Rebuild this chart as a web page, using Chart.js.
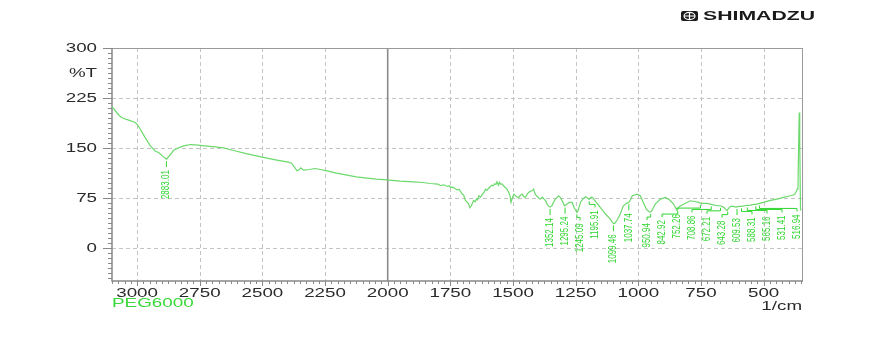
<!DOCTYPE html>
<html><head><meta charset="utf-8">
<script src="https://cdn.jsdelivr.net/npm/chart.js@4/dist/chart.umd.min.js"></script>
<style>html,body{margin:0;padding:0;background:#fff;}#wrap{width:874px;height:337px;position:relative;}</style>
</head><body><div id="wrap"><canvas id="c" width="874" height="337"></canvas></div>
<script>
const wavenumbers = [3100,3079,3067,3054,3039,3007,2999,2987,2967,2947,2927,2914,2899,2890,2883,2867,2855,2841,2815,2787,2768,2748,2721,2688,2655,2615,2560,2501,2448,2396,2384,2372,2362,2353,2347,2335,2313,2289,2269,2242,2205,2162,2125,2082,2045,2003,
1950,1897,1860,1830,1800,1790,1775,1763,1755,1750,1740,1730,1723,1715,1703,1697,1690,1682,1677,1672,1666,1661,1657,1651,1646,1641,1637,1630,1622,1616,1610,1604,1598,1590,1584,1578,1574,1568,1564,1558,1554,1550,1544,1538,1531,1524,1517,1512,1508,1503,1497,1492,1487,1482,1477,1470,1464,1457,1451,1444,1438,1430,1424,1418,1411,1403,1396,1391,1383,1376,1371,1362,1352,1345,1339,1331,1318,1310,1303,1295,1287,1275,1264,1256,1245,1240,1231,1219,1211,1204,1196,1190,1183,1168,1152,1132,1112,1104,1099,1094,1084,1072,1060,1045,1038,1032,1024,1005,992,980,968,958,951,945,932,912,892,876,860,852,843,836,816,792,770,760,752,741,725,709,686,673,660,652,646,640,632,620,610,600,588,576,565,553,540,531,517,501,473,447,421,393,377,370,366,363,361,358,356,353,350];
const transmittance = [212,202,197,194,192.5,188,185,178,165,153,145,143,138,135,133,140,146,149,153,155,154.5,153.7,152.7,151.5,150,146,141,136,132,128.5,127,121,115.5,117,120,116.5,117.5,119,117.5,115.5,112,109,106.5,104.5,103,102,
100,99,98,96.5,95.5,93.5,94.5,92,93,90.5,91,88.5,87,87.5,81,79,71,68,66,60,63,68,71,69,73,72,78,76,80,83,88,86,89,92,94,93,96,95,99,94,98,95.5,96,93,90.5,88,83,78,68,74,80.5,79,77,76,75.5,79,80.5,77,75.5,80,83,85,85.5,88,80,77,74,73,76,73,71,64,61,63,68,73,78,75,70,63,65,68,68,60,53,56,68,74,76.5,75,72.5,75.5,75.5,68,60.5,51,43,38,36.5,36.5,42,50.5,63,67,68,72,78,80.5,78,68,58,54,53.5,56,66,73,75.5,72,66,60,58,62,66,70.5,69,68,67,66.7,66.5,65,63,63,61,58,55.7,59,62,62,61,62,62,63,63.5,64,65,65,66.5,68,71,73,75.5,78,80,84,88,90,140,203,160,57,58];
const xTickValues = [3000,2750,2500,2250,2000,1750,1500,1250,1000,750,500];
const yTickValues = [0,75,150,225,300];
const peakLabels = ['2883.01','1352.14','1295.24','1245.09','1195.91','1099.46','1037.74','950.94','842.92','752.26','708.86','672.21','643.28','609.53','588.31','565.16','531.41','516.94'];
const sampleName = 'PEG6000';
const xUnit = '1/cm';
const yUnit = '%T';
const brand = 'SHIMADZU';

const points = wavenumbers.map((w, i) => ({x: w, y: transmittance[i]}));

function interpT(w) {
  for (let i = 0; i < wavenumbers.length - 1; i++) {
    const a = wavenumbers[i], b = wavenumbers[i + 1];
    if (w <= a && w >= b) {
      const t = (a - w) / (a - b);
      return transmittance[i] + t * (transmittance[i + 1] - transmittance[i]);
    }
  }
  return transmittance[transmittance.length - 1];
}

const FONT = "'Liberation Sans', Arial, sans-serif";
function stext(ctx, str, x, y, align, size, color, sx, weight) {
  ctx.save();
  ctx.translate(x, y);
  ctx.scale(sx, 1);
  ctx.font = (weight || '') + ' ' + size + 'px ' + FONT;
  ctx.fillStyle = color;
  ctx.textAlign = align;
  ctx.textBaseline = 'middle';
  ctx.fillText(str, 0, 0);
  ctx.restore();
}

const decor = {
  id: 'decor',
  beforeDatasetsDraw(chart) {
    const ctx = chart.ctx, a = chart.chartArea, xs = chart.scales.x, ys = chart.scales.y;
    ctx.save();
    // dashed grid
    ctx.strokeStyle = '#c4c4c4';
    ctx.lineWidth = 1;
    ctx.setLineDash([4, 3]);
    xTickValues.forEach(v => {
      if (v === 2000) return;
      const x = Math.round(xs.getPixelForValue(v)) + 0.5;
      ctx.beginPath(); ctx.moveTo(x, a.top); ctx.lineTo(x, a.bottom); ctx.stroke();
    });
    yTickValues.forEach(v => {
      if (v === 300) return;
      const y = Math.round(ys.getPixelForValue(v)) + 0.5;
      ctx.beginPath(); ctx.moveTo(a.left, y); ctx.lineTo(a.right, y); ctx.stroke();
    });
    ctx.setLineDash([]);
    // 2000 solid line
    ctx.strokeStyle = '#8a8a8a';
    ctx.lineWidth = 1.6;
    const x2 = xs.getPixelForValue(2000);
    ctx.beginPath(); ctx.moveTo(x2, a.top); ctx.lineTo(x2, a.bottom); ctx.stroke();
    // frame
    ctx.strokeStyle = '#9a9a9a';
    ctx.lineWidth = 1;
    ctx.beginPath(); ctx.moveTo(a.left, a.top + 0.5); ctx.lineTo(a.right, a.top + 0.5); ctx.stroke();
    ctx.beginPath(); ctx.moveTo(a.right - 0.5, a.top); ctx.lineTo(a.right - 0.5, a.bottom); ctx.stroke();
    ctx.strokeStyle = '#888';
    ctx.lineWidth = 1.5;
    ctx.beginPath(); ctx.moveTo(a.left, a.top); ctx.lineTo(a.left, a.bottom); ctx.lineTo(a.right, a.bottom); ctx.stroke();
    // y ticks
    ctx.lineWidth = 1;
    ctx.strokeStyle = '#888';
    for (let v = -45; v <= 300.01; v += 7.5) {
      const y = Math.round(ys.getPixelForValue(v)) + 0.5;
      const major = Math.abs(v % 75) < 0.01;
      ctx.beginPath(); ctx.moveTo(a.left - (major ? 9 : 4), y); ctx.lineTo(a.left, y); ctx.stroke();
    }
    // x ticks
    for (let v = 350; v <= 3100; v += 25) {
      const x = Math.round(xs.getPixelForValue(v)) + 0.5;
      const major = v % 250 === 0;
      ctx.beginPath(); ctx.moveTo(x, a.bottom); ctx.lineTo(x, a.bottom + (major ? 5 : 3)); ctx.stroke();
    }
    ctx.restore();
  },
  afterDatasetsDraw(chart) {
    const ctx = chart.ctx, a = chart.chartArea, xs = chart.scales.x, ys = chart.scales.y;
    const col = '#2fd52f';
    const peaks = peakLabels.map(s => {
      const w = parseFloat(s);
      const px = xs.getPixelForValue(w), py = ys.getPixelForValue(interpT(w));
      return {s, px, py, lx: px};
    }).sort((p, q) => p.px - q.px);
    const gap = 15;
    for (let i = 1; i < peaks.length; i++) peaks[i].lx = Math.max(peaks[i].lx, peaks[i - 1].lx + gap);
    const bound = a.right - 6;
    const n = peaks.length;
    if (peaks[n - 1].lx > bound) peaks[n - 1].lx = bound;
    for (let i = n - 2; i >= 0; i--) peaks[i].lx = Math.min(peaks[i].lx, peaks[i + 1].lx - gap);
    ctx.save();
    ctx.strokeStyle = col;
    ctx.lineWidth = 1;
    peaks.forEach(p => {
      const textTop = p.py + 11;
      ctx.beginPath();
      if (Math.abs(p.lx - p.px) < 2.5) {
        ctx.moveTo(p.lx, p.py + 2); ctx.lineTo(p.lx, textTop - 3);
      } else {
        const ey = p.py + 5;
        ctx.moveTo(p.px, p.py + 2); ctx.lineTo(p.px, ey); ctx.lineTo(p.lx, ey); ctx.lineTo(p.lx, textTop - 3);
      }
      ctx.stroke();
      ctx.save();
      ctx.translate(p.lx, textTop);
      ctx.scale(1.25, 1);
      ctx.rotate(-Math.PI / 2);
      ctx.font = '8px ' + FONT;
      ctx.fillStyle = col;
      ctx.textAlign = 'right';
      ctx.textBaseline = 'middle';
      ctx.fillText(p.s, 0, 0);
      ctx.restore();
    });
    ctx.restore();
  },
  afterDraw(chart) {
    const ctx = chart.ctx, a = chart.chartArea, xs = chart.scales.x, ys = chart.scales.y;
    const tc = '#2b2b2b';
    yTickValues.forEach(v => stext(ctx, String(v), a.left - 15, ys.getPixelForValue(v) + 0.5, 'right', 12.5, tc, 1.5));
    stext(ctx, yUnit, a.left - 15, ys.getPixelForValue(262.5) + 0.5, 'right', 12.5, tc, 1.5);
    xTickValues.forEach(v => stext(ctx, String(v), xs.getPixelForValue(v), a.bottom + 12.5, 'center', 12.5, tc, 1.5));
    stext(ctx, xUnit, a.right - 1, a.bottom + 26, 'right', 12.5, tc, 1.5);
    stext(ctx, sampleName, a.left, a.bottom + 22.5, 'left', 13, '#38d838', 1.45);
    // brand logo
    ctx.save();
    ctx.fillStyle = '#1a1a1a';
    ctx.beginPath();
    if (ctx.roundRect) ctx.roundRect(681, 11, 17, 10, 2); else ctx.rect(681, 11, 17, 10);
    ctx.fill();
    ctx.strokeStyle = '#fff';
    ctx.lineWidth = 1.2;
    ctx.beginPath(); ctx.ellipse(689.5, 16, 5.5, 3.6, 0, 0, Math.PI * 2); ctx.stroke();
    ctx.beginPath(); ctx.moveTo(684, 16); ctx.lineTo(695, 16); ctx.moveTo(689.5, 12.4); ctx.lineTo(689.5, 19.6); ctx.stroke();
    ctx.font = 'bold 13px ' + FONT;
    const w = ctx.measureText(brand).width;
    ctx.translate(703, 16.5);
    ctx.scale(112 / w, 1);
    ctx.fillStyle = '#1a1a1a';
    ctx.textAlign = 'left';
    ctx.textBaseline = 'middle';
    ctx.fillText(brand, 0, 0);
    ctx.restore();
  }
};

new Chart(document.getElementById('c'), {
  type: 'scatter',
  data: { datasets: [{ data: points, showLine: true, borderColor: '#6cd96c', borderWidth: 1.2, pointRadius: 0, tension: 0, fill: false }] },
  options: {
    responsive: false, animation: false, devicePixelRatio: 1,
    layout: { padding: { left: 112, right: 71, top: 48, bottom: 56 } },
    plugins: { legend: { display: false }, tooltip: { enabled: false } },
    scales: {
      x: { type: 'linear', reverse: true, min: 343, max: 3100, display: false },
      y: { type: 'linear', min: -50, max: 300, display: false }
    }
  },
  plugins: [decor]
});
</script>
</body></html>
